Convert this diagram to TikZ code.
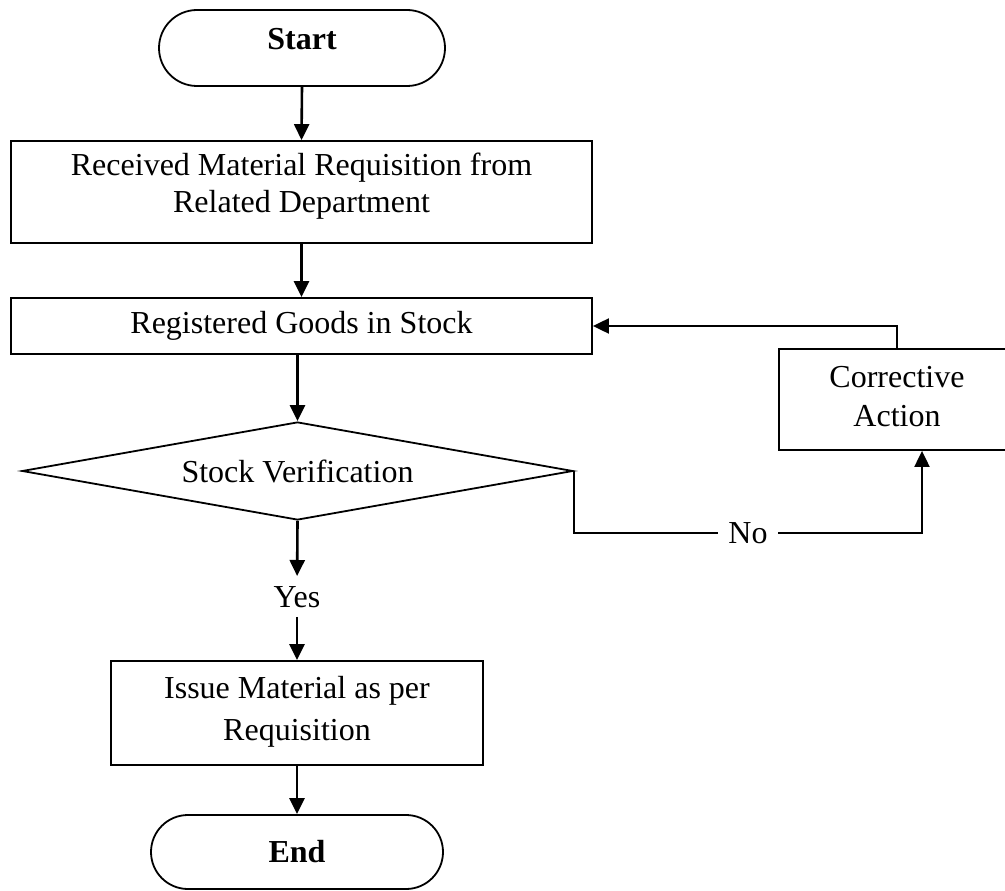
\documentclass[tikz,border=0pt]{standalone}
\usepackage{fontspec}
\setmainfont{Liberation Serif}
\usetikzlibrary{arrows.meta,shapes.geometric,shapes.misc}
\begin{document}
\begin{tikzpicture}[x=1pt,y=-1pt,
  font=\fontsize{32}{38}\selectfont,
  shapeline/.style={draw, line width=1.8pt, inner sep=0pt},
  procbox/.style={shapeline, rectangle},
  terminal/.style={shapeline, rounded rectangle},
  decision/.style={shapeline, diamond, aspect=5.62},
  flowarrow/.style={-{Triangle[length=16pt,width=15pt]}, line width=2.6pt},
  elbow/.style={line width=2pt},
  elbowarrow/.style={elbow, -{Triangle[length=16pt,width=15pt]}}]
\fill[white] (0,0) rectangle (1005,891);
\useasboundingbox (0,0) rectangle (1005,891);

\node[terminal, minimum width=286pt, minimum height=76pt,
  label={[yshift=9pt]center:\textbf{Start}}] (start) at (302,48) {};
\node[procbox, minimum width=581pt, minimum height=102pt,
  label={[yshift=6pt, align=center, font=\fontsize{32}{37}\selectfont]center:Received Material Requisition from\\Related Department}] (recv) at (301.5,192) {};
\node[procbox, minimum width=581pt, minimum height=56pt] (reg) at (301.5,326) {Registered Goods in Stock};
\node[decision, minimum width=551pt, minimum height=98pt] (verify) at (297.5,471) {Stock Verification};
\node[inner sep=0pt] (yes) at (297,597) {Yes};
\node[procbox, minimum width=372pt, minimum height=104pt,
  label={[yshift=1.5pt, align=center, font=\fontsize{32}{42}\selectfont]center:Issue Material as per\\Requisition}] (issue) at (297,713) {};
\node[terminal, minimum width=292pt, minimum height=74pt] (finish) at (297,852) {\textbf{End}};
\node[procbox, minimum width=236pt, minimum height=101pt,
  label={[yshift=3pt, align=center, font=\fontsize{32}{39}\selectfont]center:Corrective\\Action}] (correct) at (897,399.5) {};

\draw[flowarrow] (start.south) -- (recv.north);
\draw[flowarrow] (recv.south) -- (reg.north);
\draw[flowarrow] (reg.south -| verify.north) -- (verify.north);
\draw[flowarrow, shorten >=21pt] (verify.south) -- (yes.center);
\draw[flowarrow, shorten <=9pt] (yes.south) -- (issue.north);
\draw[flowarrow] (issue.south) -- (finish.north);

\draw[elbowarrow] (verify.east) -- ++(0,62) -| ([xshift=25pt]correct.south)
  node[pos=0.25, fill=white, inner xsep=10pt, inner ysep=2pt] (no) {No};
\draw[elbowarrow] (correct.north) |- (reg.east);
\end{tikzpicture}
\end{document}
